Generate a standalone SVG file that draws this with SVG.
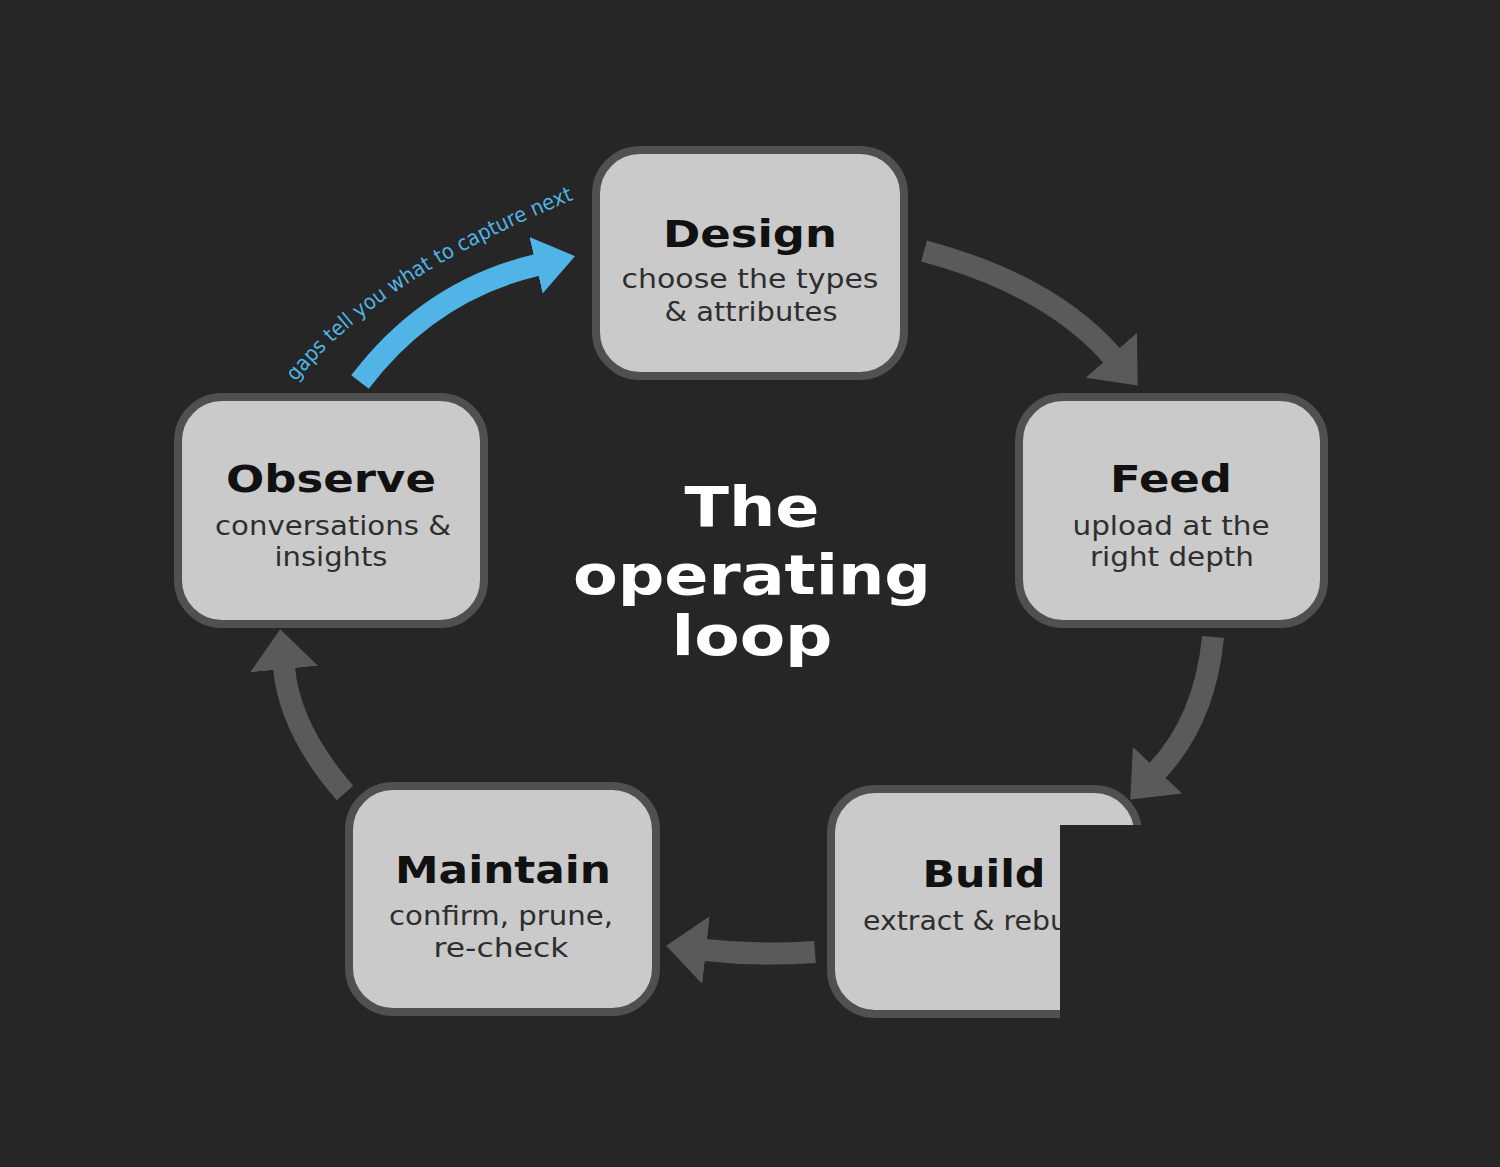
<svg xmlns="http://www.w3.org/2000/svg" width="1500" height="1167" viewBox="0 0 1500 1167">
<style>
.box{fill:#cacaca;stroke:#505050;stroke-width:8}
.ttl{font-family:"DejaVu Sans",sans-serif;font-weight:bold;font-size:37px;fill:#111111;text-anchor:middle}
.sub{font-family:"DejaVu Sans",sans-serif;font-size:26px;fill:#2e2e2e;text-anchor:middle}
.ctr{font-family:"DejaVu Sans",sans-serif;font-weight:bold;font-size:56px;fill:#ffffff;text-anchor:middle}
.gc{fill:none;stroke:#5a5a5a;stroke-width:22}
.bc{fill:none;stroke:#50b4e6;stroke-width:22}
.lbl{font-family:"DejaVu Sans",sans-serif;font-size:21px;fill:#50b4e6}
</style>
<defs>
<marker id="gh" markerUnits="userSpaceOnUse" markerWidth="42" markerHeight="68" refX="1" refY="34" orient="auto">
<path d="M0,0 L40,34 L0,68 z" fill="#5a5a5a"/>
</marker>
<marker id="bh" markerUnits="userSpaceOnUse" markerWidth="42" markerHeight="58" refX="1" refY="29" orient="auto">
<path d="M0,0 L40,29 L0,58 z" fill="#50b4e6"/>
</marker>
<path id="tp" d="M296 382 Q378 278 578 198"/>
</defs>
<rect x="0" y="0" width="1500" height="1167" fill="#262626"/>
<g id="connectors">
<path class="gc" d="M924 251 Q1050 285 1112 356" marker-end="url(#gh)"/>
<path class="gc" d="M1213 637 Q1205 720 1157 771" marker-end="url(#gh)"/>
<path class="gc" d="M815 952 Q760 956 705 950" marker-end="url(#gh)"/>
<path class="gc" d="M345 793 Q290 730 284 668" marker-end="url(#gh)"/>
<path class="bc" d="M360 382 Q430 290 537 265" marker-end="url(#bh)"/>
<text class="lbl"><textPath href="#tp" textLength="336" lengthAdjust="spacingAndGlyphs">gaps tell you what to capture next</textPath></text>
</g>
<g id="design">
<rect class="box" x="596" y="150" width="308" height="226" rx="44"/>
<text class="ttl" x="750" y="247" textLength="174" lengthAdjust="spacingAndGlyphs">Design</text>
<text class="sub" x="750" y="288" textLength="257" lengthAdjust="spacingAndGlyphs">choose the types</text>
<text class="sub" x="751" y="321" textLength="173" lengthAdjust="spacingAndGlyphs">&amp; attributes</text>
</g>
<g id="feed">
<rect class="box" x="1019" y="397" width="305" height="227" rx="44"/>
<text class="ttl" x="1171" y="492" textLength="122" lengthAdjust="spacingAndGlyphs">Feed</text>
<text class="sub" x="1171" y="535" textLength="197" lengthAdjust="spacingAndGlyphs">upload at the</text>
<text class="sub" x="1172" y="566" textLength="164" lengthAdjust="spacingAndGlyphs">right depth</text>
</g>
<g id="build">
<rect class="box" x="831" y="789" width="307" height="225" rx="44"/>
<text class="ttl" x="984" y="887" textLength="123" lengthAdjust="spacingAndGlyphs">Build</text>
<text class="sub" x="863" y="930" style="text-anchor:start" textLength="205" lengthAdjust="spacingAndGlyphs">extract &amp; rebu</text>
</g>
<g id="maintain">
<rect class="box" x="349" y="786" width="307" height="226" rx="44"/>
<text class="ttl" x="503" y="883" textLength="216" lengthAdjust="spacingAndGlyphs">Maintain</text>
<text class="sub" x="501" y="925" textLength="224" lengthAdjust="spacingAndGlyphs">confirm, prune,</text>
<text class="sub" x="501" y="957" textLength="135" lengthAdjust="spacingAndGlyphs">re-check</text>
</g>
<g id="observe">
<rect class="box" x="178" y="397" width="306" height="227" rx="44"/>
<text class="ttl" x="331" y="492" textLength="210" lengthAdjust="spacingAndGlyphs">Observe</text>
<text class="sub" x="333" y="535" textLength="236" lengthAdjust="spacingAndGlyphs">conversations &amp;</text>
<text class="sub" x="331" y="566" textLength="113" lengthAdjust="spacingAndGlyphs">insights</text>
</g>
<g id="title">
<text class="ctr" x="752" y="526" textLength="135" lengthAdjust="spacingAndGlyphs">The</text>
<text class="ctr" x="752" y="594" textLength="358" lengthAdjust="spacingAndGlyphs">operating</text>
<text class="ctr" x="752" y="655" textLength="161" lengthAdjust="spacingAndGlyphs">loop</text>
</g>
<rect id="cover" x="1060" y="825" width="440" height="342" fill="#262626"/>
</svg>
